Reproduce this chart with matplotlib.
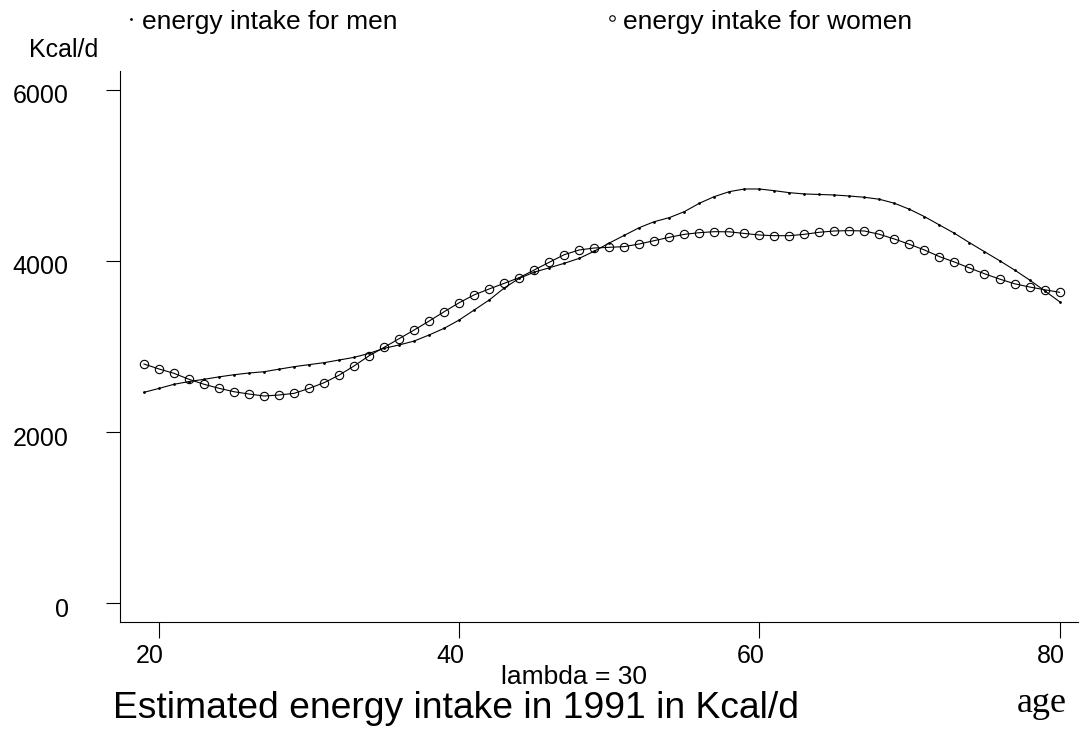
import numpy as np
import matplotlib
matplotlib.use("Agg")
import matplotlib.pyplot as plt
import matplotlib.transforms as mtransforms
from matplotlib.lines import Line2D

plt.rcParams['font.family'] = ['Liberation Sans', 'DejaVu Sans']

# smoothed energy intake (Kcal/d) by age
age = np.arange(19, 81)
men = [2464, 2510, 2558, 2590, 2616, 2645, 2670, 2690, 2705, 2735,
       2764, 2788, 2811, 2842, 2873, 2920, 2979, 3018, 3064, 3135,
       3213, 3310, 3427, 3544, 3684, 3797, 3870, 3920, 3973, 4031,
       4115, 4210, 4300, 4390, 4460, 4507, 4577, 4675, 4753, 4811,
       4842, 4842, 4822, 4799, 4784, 4778, 4772, 4760, 4745, 4722,
       4675, 4605, 4519, 4421, 4324, 4214, 4109, 4004, 3895, 3778,
       3653, 3524]
women = [2795, 2737, 2686, 2616, 2558, 2511, 2471, 2444, 2421, 2433,
         2452, 2510, 2577, 2665, 2773, 2892, 2990, 3092, 3193, 3298,
         3407, 3512, 3604, 3673, 3739, 3805, 3895, 3985, 4074, 4129,
         4152, 4160, 4168, 4199, 4238, 4277, 4312, 4331, 4343, 4341,
         4322, 4304, 4296, 4296, 4312, 4336, 4351, 4355, 4351, 4312,
         4257, 4195, 4129, 4051, 3988, 3918, 3851, 3789, 3734, 3696,
         3664, 3634]
xticks = [20, 40, 60, 80]
yticks = [0, 2000, 4000, 6000]

W, H = 1080, 731
fig = plt.figure(figsize=(W / 100, H / 100), dpi=100)
ax = fig.add_axes([120 / W, (H - 622) / H, (1078 - 120) / W, (622 - 71) / H])

ax.plot(age, men, '-', color='black', lw=0.8, marker='.', ms=2)
ax.plot(age, women, '-', color='black', lw=0.8, marker='o', ms=6,
        mfc='none', mec='black', mew=0.8)

ax.set_xlim(17.40, 81.23)
ax.set_ylim(-222, 6222)
ax.set_xticks(xticks)
ax.set_yticks(yticks)
ax.tick_params(axis='x', direction='out', length=11.5, width=0.8, pad=4, labelsize=18)
ax.tick_params(axis='y', direction='out', length=10, width=0.8, pad=27, labelsize=18)
for s in ['top', 'right']:
    ax.spines[s].set_visible(False)
for s in ['left', 'bottom']:
    ax.spines[s].set_linewidth(0.8)

# tick labels sit a little off their ticks in the original
shift_x = mtransforms.ScaledTranslation(-9 / 100, 0, fig.dpi_scale_trans)
for lab in ax.get_xticklabels():
    lab.set_transform(lab.get_transform() + shift_x)
shift_y = mtransforms.ScaledTranslation(0, -4 / 100, fig.dpi_scale_trans)
for lab in ax.get_yticklabels():
    lab.set_transform(lab.get_transform() + shift_y)

# legend across the top
fig.add_artist(Line2D([131 / W], [1 - 19 / H], marker='.', ms=2, color='black',
                      transform=fig.transFigure))
fig.text(142 / W, 1 - 22 / H, 'energy intake for men', fontsize=19, va='center')
fig.add_artist(Line2D([612 / W], [1 - 18 / H], marker='o', ms=4, mfc='none',
                      mec='black', mew=0.8, transform=fig.transFigure))
fig.text(623 / W, 1 - 22 / H, 'energy intake for women', fontsize=19, va='center')

fig.text(64 / W, 1 - 50 / H, 'Kcal/d', fontsize=18, ha='center', va='center')
fig.text(574 / W, 1 - 677 / H, 'lambda = 30', fontsize=19, ha='center', va='center')
fig.text(113 / W, 1 - 718 / H, 'Estimated energy intake in 1991 in Kcal/d',
         fontsize=26.8, va='baseline')
fig.text(1017 / W, 1 - 712 / H, 'age', fontsize=26, family='Liberation Serif',
         va='baseline')

fig.savefig('out.png', dpi=100)
